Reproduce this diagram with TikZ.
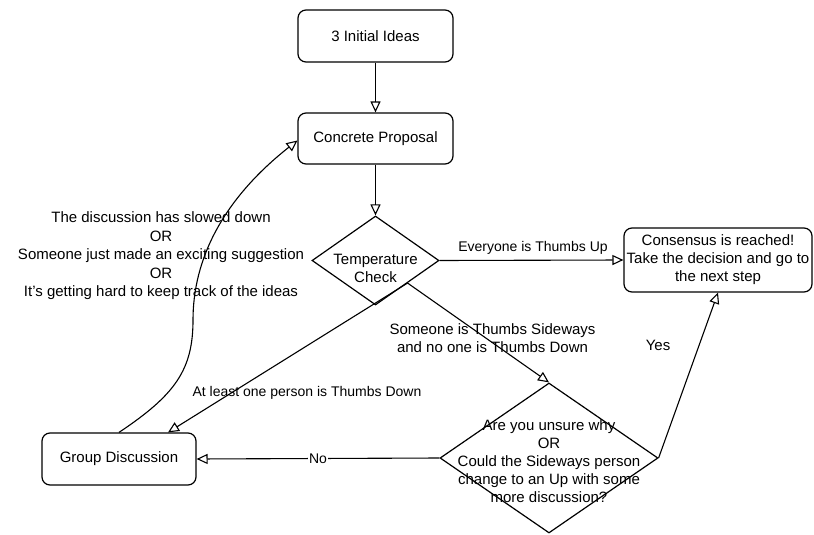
\documentclass[tikz,border=0pt]{standalone}
\usepackage{fontspec}
\setmainfont{Liberation Sans}
\usetikzlibrary{shapes.geometric,arrows.meta,calc}
\begin{document}
\begin{tikzpicture}[x=1pt,y=-1pt,
  every node/.style={font=\fontsize{15}{18}\selectfont},
  box/.style={draw, rounded corners=8pt, line width=1.2pt, align=center, inner sep=2pt},
  dia/.style={draw, diamond, line width=1.2pt, inner sep=0pt},
  lbl/.style={align=center, inner sep=1pt},
  small/.style={font=\fontsize{14}{17}\selectfont},
  arr/.style={line width=1.1pt, -{Triangle[open,length=11pt,width=10pt,line width=1.1pt]}}
]
\useasboundingbox (0,0) rectangle (814,535);

\node[box, minimum width=155pt, minimum height=52pt] (ini) at (375.5,36) {3 Initial Ideas};
\node[box, minimum width=155pt, minimum height=51pt] (crp) at (375.5,138.5) {Concrete Proposal};
\node[dia, minimum width=127pt, minimum height=89pt] (tc) at (375.5,260.5) {};
\node[lbl] (tctext) at (375.5,268.5) {Temperature\\Check};
\node[box, minimum width=188pt, minimum height=64pt] (cons) at (718,260) {Consensus is reached!\\Take the decision and go to\\the next step};
\node[box, minimum width=154pt, minimum height=52pt] (gd) at (119,459) {Group Discussion};
\node[dia, minimum width=218pt, minimum height=150pt] (q) at (549,458) {};
\node[lbl] (qtext) at (549,461) {Are you unsure why\\OR\\Could the Sideways person\\change to an Up with some\\more discussion?};

\node[lbl, font=\fontsize{15}{18.5}\selectfont] (why) at (161,256) {The discussion has slowed down\\OR\\Someone just made an exciting suggestion\\OR\\It{\char39}s getting hard to keep track of the ideas};

\coordinate (tcse) at ($(tc.east)!0.5!(tc.south)$);

\draw[arr] (ini) -- (crp);
\draw[arr] (crp) -- (tc);
\draw[arr] (tc.east) -- (cons.west);
\node[lbl, small] (lup) at (533,248) {Everyone is Thumbs Up};
\draw[arr] (tcse) -- (q.north);
\node[lbl] (lside) at (492.5,338.5) {Someone is Thumbs Sideways\\and no one is Thumbs Down};
\draw[arr] (tcse) -- ([xshift=49pt]gd.north);
\node[lbl, small] (ldown) at (307,393) {At least one person is Thumbs Down};
\draw[arr] (q.west) -- (gd.east) node[midway, fill=white, inner sep=1pt, small] (lno) {No};
\draw[arr] (q.east) -- (cons.south);
\node[lbl] (lyes) at (658,345) {Yes};
\draw[arr] (gd.north) .. controls (175,395) and (193,370) .. (193,320) .. controls (193,260) and (222,200) .. ([yshift=-2pt]crp.west);
\end{tikzpicture}
\end{document}
